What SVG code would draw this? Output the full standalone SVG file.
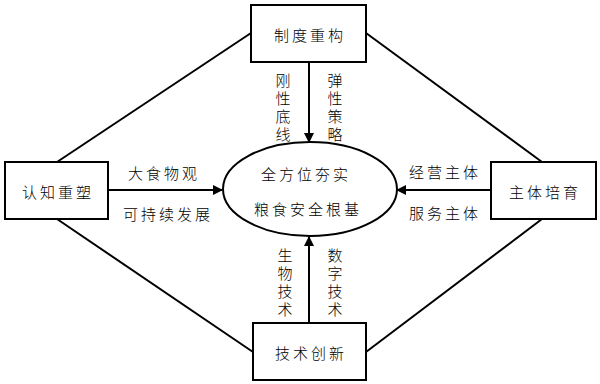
<svg xmlns="http://www.w3.org/2000/svg" width="600" height="384" viewBox="0 0 600 384">
<style>
.box{fill:#fff;stroke:#000;stroke-width:2}
.ln{stroke:#000;stroke-width:2;fill:none}
text{font-family:"Noto Sans CJK SC","Noto Sans",sans-serif;font-size:15px;font-weight:300;fill:#000;text-anchor:middle;dominant-baseline:central;letter-spacing:3px}
.v{letter-spacing:0}
</style>
<defs>
<marker id="ah" markerWidth="10" markerHeight="10" refX="9" refY="5" orient="auto" markerUnits="userSpaceOnUse">
<path d="M0,0 L10,5 L0,10 Z" fill="#000"/>
</marker>
</defs>
<g id="connectors">
<line class="ln" x1="251" y1="33" x2="57" y2="162"/>
<line class="ln" x1="366" y1="33" x2="542" y2="162"/>
<line class="ln" x1="57" y1="219" x2="253" y2="352"/>
<line class="ln" x1="542" y1="219" x2="366" y2="352"/>
<line class="ln" x1="309" y1="62" x2="309" y2="142" marker-end="url(#ah)"/>
<line class="ln" x1="309" y1="323" x2="309" y2="237" marker-end="url(#ah)"/>
<line class="ln" x1="108" y1="190" x2="222" y2="190" marker-end="url(#ah)"/>
<line class="ln" x1="491" y1="190" x2="397" y2="190" marker-end="url(#ah)"/>
</g>
<g id="center">
<ellipse class="box" cx="310" cy="189" rx="87" ry="47"/>
<text x="306" y="173">全方位夯实</text>
<text x="308" y="208">粮食安全根基</text>
</g>
<g id="top">
<rect class="box" x="251" y="5" width="115" height="57"/>
<text x="310" y="34">制度重构</text>
</g>
<g id="left">
<rect class="box" x="5" y="162" width="103" height="57"/>
<text x="58" y="191">认知重塑</text>
</g>
<g id="right">
<rect class="box" x="491" y="162" width="105" height="57"/>
<text x="545" y="191">主体培育</text>
</g>
<g id="bottom">
<rect class="box" x="253" y="323" width="113" height="57"/>
<text x="311" y="352">技术创新</text>
</g>
<g id="labels">
<text class="v" x="283" y="79">刚</text><text class="v" x="283" y="97">性</text><text class="v" x="283" y="115">底</text><text class="v" x="283" y="133">线</text>
<text class="v" x="335" y="79">弹</text><text class="v" x="335" y="97">性</text><text class="v" x="335" y="115">策</text><text class="v" x="335" y="133">略</text>
<text class="v" x="285" y="254">生</text><text class="v" x="285" y="272">物</text><text class="v" x="285" y="290">技</text><text class="v" x="285" y="308">术</text>
<text class="v" x="335" y="254">数</text><text class="v" x="335" y="272">字</text><text class="v" x="335" y="290">技</text><text class="v" x="335" y="308">术</text>
<text x="164" y="172">大食物观</text>
<text x="168" y="213">可持续发展</text>
<text x="445" y="171">经营主体</text>
<text x="445" y="212">服务主体</text>
</g>
</svg>
